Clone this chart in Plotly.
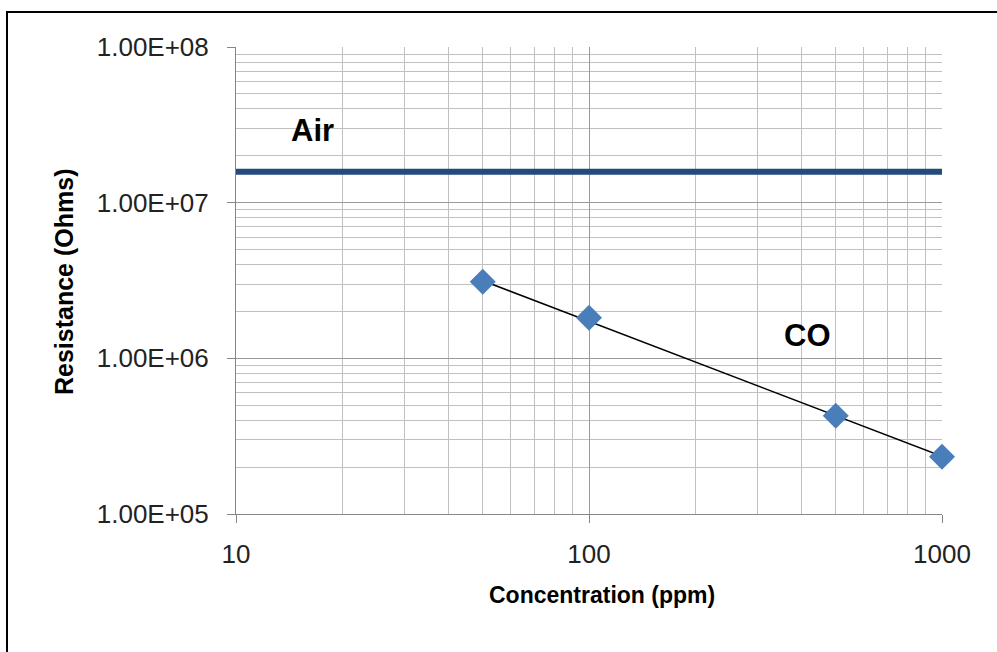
import plotly.graph_objects as go

# ---- data ----
conc_ppm = [50, 100, 500, 1000]
co_resistance = [3.10e6, 1.82e6, 4.27e5, 2.33e5]

trend_x = [50, 1000]
trend_y = [3.15e6, 2.35e5]

air_x = [10, 1000]
air_resistance = [1.58e7, 1.58e7]

x_tickvals = [10, 100, 1000]
x_ticktext = ["10", "100", "1000"]
y_tickvals = [1e5, 1e6, 1e7, 1e8]
y_ticktext = ["1.00E+05", "1.00E+06", "1.00E+07", "1.00E+08"]

FONT = "Liberation Sans, Arial, sans-serif"
W, H = 997, 652
L, R, T, B = 236, 55, 47, 138
pw, ph = W - L - R, H - T - B


def px_x(p):
    return (p - L) / pw


def px_y(p):
    return (H - B - p) / ph


fig = go.Figure()
fig.add_trace(go.Scatter(x=air_x, y=air_resistance, mode="lines",
                         line=dict(color="#254A7C", width=6), showlegend=False))
fig.add_trace(go.Scatter(x=trend_x, y=trend_y, mode="lines",
                         line=dict(color="#000000", width=1.5), showlegend=False))
fig.add_trace(go.Scatter(x=conc_ppm, y=co_resistance, mode="markers",
                         marker=dict(symbol="diamond", size=20, color="#4A7EBB"),
                         showlegend=False, cliponaxis=False))

axis_common = dict(
    type="log", showline=True, linecolor="#868686", linewidth=1,
    ticks="outside", ticklen=8, tickcolor="#868686",
    showgrid=True, gridcolor="#9a9a9a", gridwidth=1,
    zeroline=False, tickfont=dict(family=FONT, size=26, color="#222222"),
    minor=dict(dtick="D1", showgrid=True, gridcolor="#c0c0c0", gridwidth=1, ticks=""),
)

fig.update_xaxes(range=[1, 3], tickmode="array", tickvals=x_tickvals,
                 ticktext=x_ticktext, ticklabelstandoff=9, **axis_common)
fig.update_yaxes(range=[5, 8], tickmode="array", tickvals=y_tickvals,
                 ticktext=y_ticktext, ticklabelstandoff=13, **axis_common)

ann = [
    dict(text="<b>Concentration (ppm)</b>", x=px_x(602), y=px_y(595),
         font=dict(size=23)),
    dict(text="<b>Resistance (Ohms)</b>", x=px_x(64), y=px_y(282),
         textangle=-90, font=dict(size=25)),
    dict(text="<b>Air</b>", x=px_x(312), y=px_y(130), font=dict(size=31)),
    dict(text="<b>CO</b>", x=px_x(807), y=px_y(335), font=dict(size=31)),
]
for a in ann:
    a.update(xref="paper", yref="paper", showarrow=False,
             xanchor="center", yanchor="middle")
    a["font"].update(family=FONT, color="#000000")

fig.update_layout(
    width=W, height=H, margin=dict(l=L, r=R, t=T, b=B, autoexpand=False),
    paper_bgcolor="white", plot_bgcolor="white",
    annotations=ann,
    shapes=[dict(type="rect", xref="paper", yref="paper",
                 x0=px_x(7), y0=-1.0, x1=1.5, y1=px_y(12),
                 line=dict(color="#000000", width=2), layer="above")],
)

fig.write_html("out.html")
